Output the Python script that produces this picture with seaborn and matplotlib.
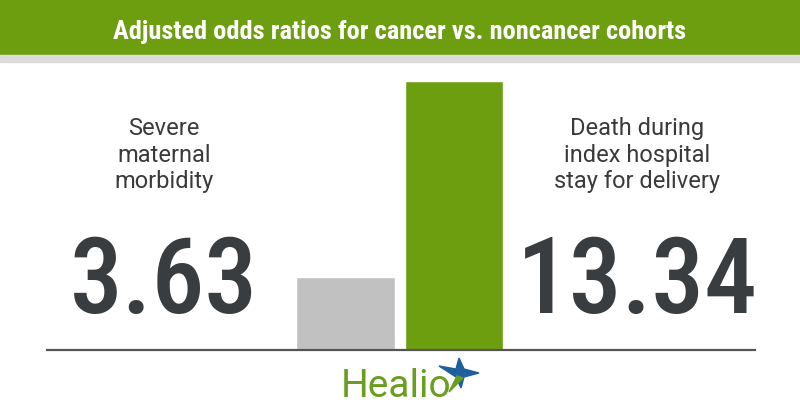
import matplotlib
matplotlib.use("Agg")
import matplotlib.pyplot as plt
import seaborn as sns
import pandas as pd
from matplotlib.patches import Polygon, Rectangle

# ---- data ----
categories = ["Severe maternal morbidity", "Death during index hospital stay for delivery"]
values = [3.63, 13.34]
value_labels = ["3.63", "13.34"]
side_labels = ["Severe\nmaternal\nmorbidity", "Death during\nindex hospital\nstay for delivery"]
bar_colors = ["#c1c1c1", "#6c9e10"]
title = "Adjusted odds ratios for cancer vs. noncancer cohorts"

sns.set_theme(style="white")
plt.rcParams["font.family"] = ["Roboto", "DejaVu Sans"]

W, H = 800, 420
fig = plt.figure(figsize=(W / 100, H / 100), dpi=100)

def fx(x):
    return x / W

def fy(y):
    return 1 - y / H

# header band and gray strip
fig.patches.append(Rectangle((0, fy(55)), 1, 55 / H, transform=fig.transFigure,
                             color="#6c9e10", zorder=0))
fig.patches.append(Rectangle((0, fy(62)), 1, 7 / H, transform=fig.transFigure,
                             color="#dcdcdc", zorder=0))
fig.text(0.5, fy(39), title, ha="center", va="baseline", color="white",
         fontsize=19, fontweight="bold",
         family=["Roboto Condensed", "Roboto", "DejaVu Sans"])

# bar axes
ax = fig.add_axes([fx(47), fy(350), fx(708), 288 / H])
df = pd.DataFrame({"cat": categories, "val": values})
sns.barplot(data=df, x="cat", y="val", hue="cat", palette=bar_colors,
            width=0.91, saturation=1, legend=False, ax=ax)
unit = 108.5
ax.set_xlim(-(345.5 - 47) / unit, 1 + (755 - 454) / unit)
ax.set_ylim(0, 13.34 * 288 / 269)
ax.set_xticks([])
ax.set_yticks([])
ax.set_xlabel("")
ax.set_ylabel("")
for s in ["top", "left", "right"]:
    ax.spines[s].set_visible(False)
ax.spines["bottom"].set_color("#555555")
ax.spines["bottom"].set_linewidth(1.6)
ax.patch.set_alpha(0)

# side labels and big numbers
xs = [164, 637]
for x, lab, num in zip(xs, side_labels, value_labels):
    fig.text(fx(x), fy(117), lab, ha="center", va="top", fontsize=17,
             color="#3a3a3a", linespacing=1.2)
    fig.text(fx(x), fy(313), num, ha="center", va="baseline", fontsize=76,
             fontweight="medium", color="#3a3d3f",
             family=["Roboto Condensed", "Roboto", "DejaVu Sans"])

# Healio logo
fig.text(fx(341), fy(397), "Healio", ha="left", va="baseline", fontsize=28,
         color="#6a9e1f")
cx, cy = 459, 372
star = [(cx, cy - 14), (cx + 5, cy - 3), (cx + 20, cy + 1), (cx + 5, cy + 5),
        (cx + 2, cy + 16), (cx - 3, cy + 5), (cx - 20, cy - 6), (cx - 3, cy - 3)]
fig.patches.append(Polygon([(fx(a), fy(b)) for a, b in star], closed=True,
                           transform=fig.transFigure, color="#1f5f9e"))
leaf = [(cx - 2, cy + 4), (cx + 4, cy + 6), (cx - 10, cy + 20)]
fig.patches.append(Polygon([(fx(a), fy(b)) for a, b in leaf], closed=True,
                           transform=fig.transFigure, color="#6a9e1f"))

fig.savefig("out.png", dpi=100)
